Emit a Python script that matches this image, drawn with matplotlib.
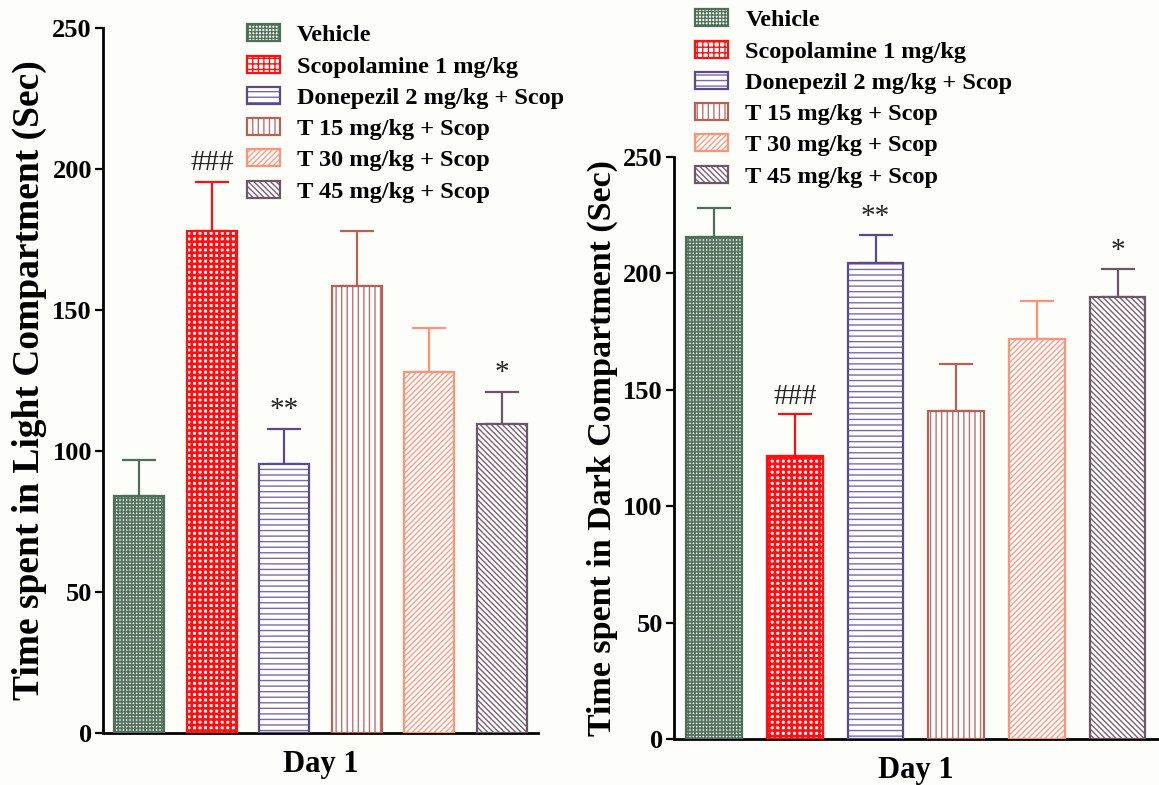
import numpy as np
import matplotlib
matplotlib.use('Agg')
import matplotlib.pyplot as plt

groups = ['Vehicle', 'Scopolamine 1 mg/kg', 'Donepezil 2 mg/kg + Scop',
          'T 15 mg/kg + Scop', 'T 30 mg/kg + Scop', 'T 45 mg/kg + Scop']
light_mean = [84, 178, 95.5, 158.5, 128, 109.5]
light_sem = [13, 17.5, 12.5, 19.5, 15.5, 11.5]
light_marks = ['', '###', '**', '', '', '*']
dark_mean = [215.5, 121.5, 204.5, 141, 172, 190]
dark_sem = [12.5, 18, 12, 20, 16, 12]
dark_marks = ['', '###', '**', '', '', '*']

# face colour, hatch colour, hatch, hatch width, outline colour
styles = [
    ('white', '#56755f', '+++++', 1.3, '#4e6e58'),
    ('white', '#ff1010', '+++', 1.9, '#ff1010'),
    ('white', '#7a6aa8', '---', 1.0, '#5a4a8c'),
    ('white', '#bf7068', '|||', 1.0, '#b5615a'),
    ('white', '#ff9c85', '//////', 1.0, '#ff9277'),
    ('white', '#7a6274', '\\\\\\\\\\\\', 1.0, '#6e5669'),
]

plt.rcParams['font.family'] = ['Liberation Serif', 'DejaVu Serif']
plt.rcParams['font.weight'] = 'bold'
plt.rcParams['hatch.linewidth'] = 1.0

bg = '#fdfdf9'
fig = plt.figure(figsize=(11.59, 7.85), dpi=100, facecolor=bg)


def hatched(patch, lw):
    if hasattr(patch, 'set_hatch_linewidth'):
        patch.set_hatch_linewidth(lw)


def draw_panel(ax, means, sems, marks, ylabel, ysize, legend_pos):
    x = np.arange(len(means))
    handles = []
    for i in range(len(means)):
        face, hcol, hatch, hlw, edge = styles[i]
        b1 = ax.bar(x[i], means[i], width=0.69, color=face, edgecolor=hcol,
                    hatch=hatch, linewidth=0, zorder=2)
        hatched(b1[0], hlw)
        b2 = ax.bar(x[i], means[i], width=0.69, fill=False, edgecolor=edge,
                    linewidth=1.6, zorder=3)
        ax.errorbar(x[i], means[i], yerr=[[0], [sems[i]]], fmt='none',
                    ecolor=edge, elinewidth=1.6, capsize=12, capthick=1.6,
                    zorder=1)
        if marks[i]:
            ax.text(x[i], means[i] + sems[i] + 2, marks[i], ha='center',
                    va='bottom', fontsize=21, fontweight='normal',
                    color='#222222')
        # legend handle: same hatch and outline
        h1 = plt.Rectangle((0, 0), 1, 1, facecolor=face, edgecolor=hcol,
                           hatch=hatch, linewidth=0)
        hatched(h1, min(hlw, 1.2))
        h2 = plt.Rectangle((0, 0), 1, 1, fill=False, edgecolor=edge,
                           linewidth=1.6)
        handles.append((h1, h2))

    ax.set_facecolor(bg)
    ax.set_ylim(0, 250)
    ax.set_xlim(-0.5, 5.5)
    ax.set_yticks([0, 50, 100, 150, 200, 250])
    ax.set_xticks([])
    ax.spines['top'].set_visible(False)
    ax.spines['right'].set_visible(False)
    ax.spines['left'].set_linewidth(2)
    ax.spines['bottom'].set_linewidth(2)
    ax.tick_params(axis='y', length=6, width=1.6, labelsize=19, pad=2)
    ax.set_xlabel('Day 1', fontsize=22, fontweight='bold', labelpad=12)
    ax.set_ylabel(ylabel, fontsize=ysize, fontweight='bold', labelpad=4)
    ax.legend(handles, groups, loc='upper left', bbox_to_anchor=legend_pos,
              bbox_transform=fig.transFigure, frameon=False, fontsize=17.5,
              handlelength=1.36, handleheight=0.7, handletextpad=0.7,
              labelspacing=0.38, borderpad=0, borderaxespad=0)


ax1 = fig.add_axes([0.0889, 0.0662, 0.3753, 0.898])
draw_panel(ax1, light_mean, light_sem, light_marks,
           'Time spent in Light Compartment (Sec)', 27, (0.213, 0.969))

ax2 = fig.add_axes([0.5815, 0.0586, 0.4175, 0.7414])
draw_panel(ax2, dark_mean, dark_sem, dark_marks,
           'Time spent in Dark Compartment (Sec)', 24.5, (0.600, 0.988))

fig.savefig('out.png', dpi=100, facecolor=bg)
